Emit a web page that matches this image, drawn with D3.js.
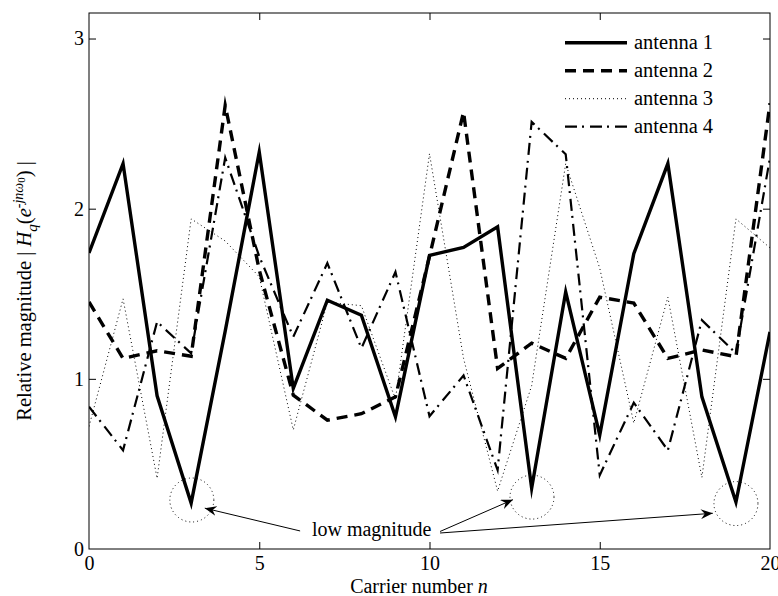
<!DOCTYPE html>
<html>
<head>
<meta charset="utf-8">
<script src="https://cdn.jsdelivr.net/npm/d3@7/dist/d3.min.js"></script>
<style>
  html, body { margin: 0; padding: 0; background: #fff; }
  svg { display: block; }
  svg text { font-family: 'Liberation Serif', 'Tinos', 'Times New Roman', 'DejaVu Serif', serif !important; fill: #000; }
</style>
</head>
<body>
<svg id="chart" width="778" height="596"></svg>
<script>
// ---- data ----
const carriers = [0,1,2,3,4,5,6,7,8,9,10,11,12,13,14,15,16,17,18,19,20];
const antenna1 = [1.74, 2.265, 0.90, 0.27, 1.28, 2.333, 0.944, 1.462, 1.374, 0.777, 1.726, 1.772, 1.893, 0.357, 1.511, 0.669, 1.736, 2.265, 0.894, 0.276, 1.276];
const antenna2 = [1.452, 1.12, 1.165, 1.133, 2.607, 1.64, 0.904, 0.757, 0.795, 0.894, 1.72, 2.568, 1.061, 1.21, 1.12, 1.48, 1.445, 1.12, 1.17, 1.13, 2.62];
const antenna3 = [0.72, 1.47, 0.415, 1.94, 1.81, 1.60, 0.70, 1.45, 1.43, 0.88, 2.323, 1.12, 0.34, 0.96, 2.265, 1.65, 0.74, 1.48, 0.42, 1.94, 1.77];
const antenna4 = [0.836, 0.58, 1.335, 1.15, 2.30, 1.72, 1.247, 1.68, 1.18, 1.628, 0.78, 1.02, 0.464, 2.51, 2.32, 0.434, 0.86, 0.58, 1.345, 1.15, 2.30];
const seriesNames = ["antenna 1", "antenna 2", "antenna 3", "antenna 4"];
const xTicks = [0, 5, 10, 15, 20];
const yTicks = [0, 1, 2, 3];
const xDomain = [0, 20];
const yDomain = [0, 3.15];
// annotation (data units)
const circleCenters = [[3.02, 0.288], [13.01, 0.305], [19.0, 0.267]];
const arrowTails = [[6.2, 0.106], [10.31, 0.103], [10.31, 0.094]];
const arrowTips = [[3.4, 0.24], [12.45, 0.29], [18.32, 0.21]];
const annotationText = "low magnitude";
const annotationPos = [8.3, 0.076];

// ---- layout ----
const FONT = "'Liberation Serif', 'Tinos', 'Times New Roman', 'DejaVu Serif', serif";
const svg = d3.select("#chart");
const L = 89, R = 770, T = 13, B = 549;
const x = d3.scaleLinear().domain(xDomain).range([L, R]);
const y = d3.scaleLinear().domain(yDomain).range([B, T]);

const styles = [
  { width: 3.4, dash: null },
  { width: 3.4, dash: "11,7" },
  { width: 1.0, dash: "1,3" },
  { width: 2.2, dash: "12,5,2,6" }
];
const allSeries = [antenna1, antenna2, antenna3, antenna4];

// frame
svg.append("rect").attr("x", L).attr("y", T).attr("width", R - L).attr("height", B - T)
  .attr("fill", "#fff").attr("stroke", "#000").attr("stroke-width", 1);

// axes with inward ticks
const fmt = d3.format("d");
const gx = svg.append("g").attr("transform", `translate(0,${B})`)
  .call(d3.axisBottom(x).tickValues(xTicks).tickFormat(fmt).tickSizeInner(-7).tickSizeOuter(0).tickPadding(7));
const gxTop = svg.append("g").attr("transform", `translate(0,${T})`)
  .call(d3.axisTop(x).tickValues(xTicks).tickFormat("").tickSizeInner(-7).tickSizeOuter(0));
const gy = svg.append("g").attr("transform", `translate(${L},0)`)
  .call(d3.axisLeft(y).tickValues(yTicks).tickFormat(fmt).tickSizeInner(-7).tickSizeOuter(0).tickPadding(5));
const gyR = svg.append("g").attr("transform", `translate(${R},0)`)
  .call(d3.axisRight(y).tickValues(yTicks).tickFormat("").tickSizeInner(-7).tickSizeOuter(0));
[gx, gxTop, gy, gyR].forEach(g => {
  g.attr("font-family", FONT);
  g.select(".domain").remove();
  g.selectAll("line").attr("stroke", "#000").attr("stroke-width", 1);
  g.selectAll("text").style("font-family", FONT).style("font-size", "20px").attr("fill", "#000");
});
gx.selectAll(".tick").filter(d => d === 0 || d === 20).select("line").remove();
gxTop.selectAll(".tick").filter(d => d === 0 || d === 20).remove();
gy.selectAll(".tick").filter(d => d === 0).select("line").remove();
gyR.selectAll(".tick").filter(d => d === 0).remove();

// lines
svg.append("clipPath").attr("id", "pc").append("rect")
  .attr("x", L).attr("y", T).attr("width", R - L).attr("height", B - T);
const line = d3.line().x((d, i) => x(carriers[i])).y(d => y(d));
const plot = svg.append("g").attr("clip-path", "url(#pc)");
allSeries.forEach((s, k) => {
  plot.append("path").datum(s).attr("d", line)
    .attr("fill", "none").attr("stroke", "#000")
    .attr("stroke-width", styles[k].width)
    .attr("stroke-dasharray", styles[k].dash)
    .attr("stroke-linejoin", "miter").attr("stroke-miterlimit", 10);
});

// annotation circles
plot.selectAll("circle.ann").data(circleCenters).join("circle")
  .attr("class", "ann")
  .attr("cx", d => x(d[0])).attr("cy", d => y(d[1])).attr("r", 22)
  .attr("fill", "none").attr("stroke", "#000").attr("stroke-width", 1).attr("stroke-dasharray", "1,3");

// arrows
const defs = svg.append("defs");
defs.append("marker").attr("id", "arr").attr("viewBox", "0 0 12 10").attr("refX", 12).attr("refY", 5)
  .attr("markerWidth", 12).attr("markerHeight", 10).attr("markerUnits", "userSpaceOnUse").attr("orient", "auto")
  .append("path").attr("d", "M0,0 L12,5 L0,10 L4,5 Z").attr("fill", "#000");
arrowTails.forEach((t, i) => {
  svg.append("line")
    .attr("x1", x(t[0])).attr("y1", y(t[1]))
    .attr("x2", x(arrowTips[i][0])).attr("y2", y(arrowTips[i][1]))
    .attr("stroke", "#000").attr("stroke-width", 1).attr("marker-end", "url(#arr)");
});
svg.append("text").attr("x", x(annotationPos[0])).attr("y", y(annotationPos[1]))
  .attr("text-anchor", "middle").style("font-size", "20px").style("font-family", FONT)
  .attr("paint-order", "stroke").attr("stroke", "#fff").attr("stroke-width", 4)
  .text(annotationText);

// legend
const lg = svg.append("g");
seriesNames.forEach((name, k) => {
  const ly = 42.7 + k * 28;
  lg.append("line").attr("x1", 565).attr("x2", 627).attr("y1", ly).attr("y2", ly)
    .attr("stroke", "#000").attr("stroke-width", styles[k].width).attr("stroke-dasharray", styles[k].dash);
  lg.append("text").attr("x", 634).attr("y", ly + 6.5).style("font-size", "20.5px").style("font-family", FONT).text(name);
});

// axis labels
const xl = svg.append("text").attr("x", 419).attr("y", 593).attr("text-anchor", "middle")
  .style("font-size", "20px").style("font-family", FONT);
xl.append("tspan").text("Carrier number ");
xl.append("tspan").attr("font-style", "italic").text("n");

const yl = svg.append("text").attr("transform", "translate(31,291) rotate(-90)").attr("text-anchor", "middle")
  .style("font-size", "20.5px").style("font-family", FONT);
yl.append("tspan").text("Relative magnitude  | ");
yl.append("tspan").attr("font-style", "italic").text("H");
yl.append("tspan").attr("font-style", "italic").attr("dy", 6).style("font-size", "15px").text("q");
yl.append("tspan").attr("dy", -6).text("(");
yl.append("tspan").attr("font-style", "italic").text("e");
yl.append("tspan").attr("dy", -8).style("font-size", "14px").attr("font-style", "italic").text("-jnω");
yl.append("tspan").attr("dy", 2).style("font-size", "11px").text("0");
yl.append("tspan").attr("dy", 6).text(") |");
</script>
</body>
</html>
